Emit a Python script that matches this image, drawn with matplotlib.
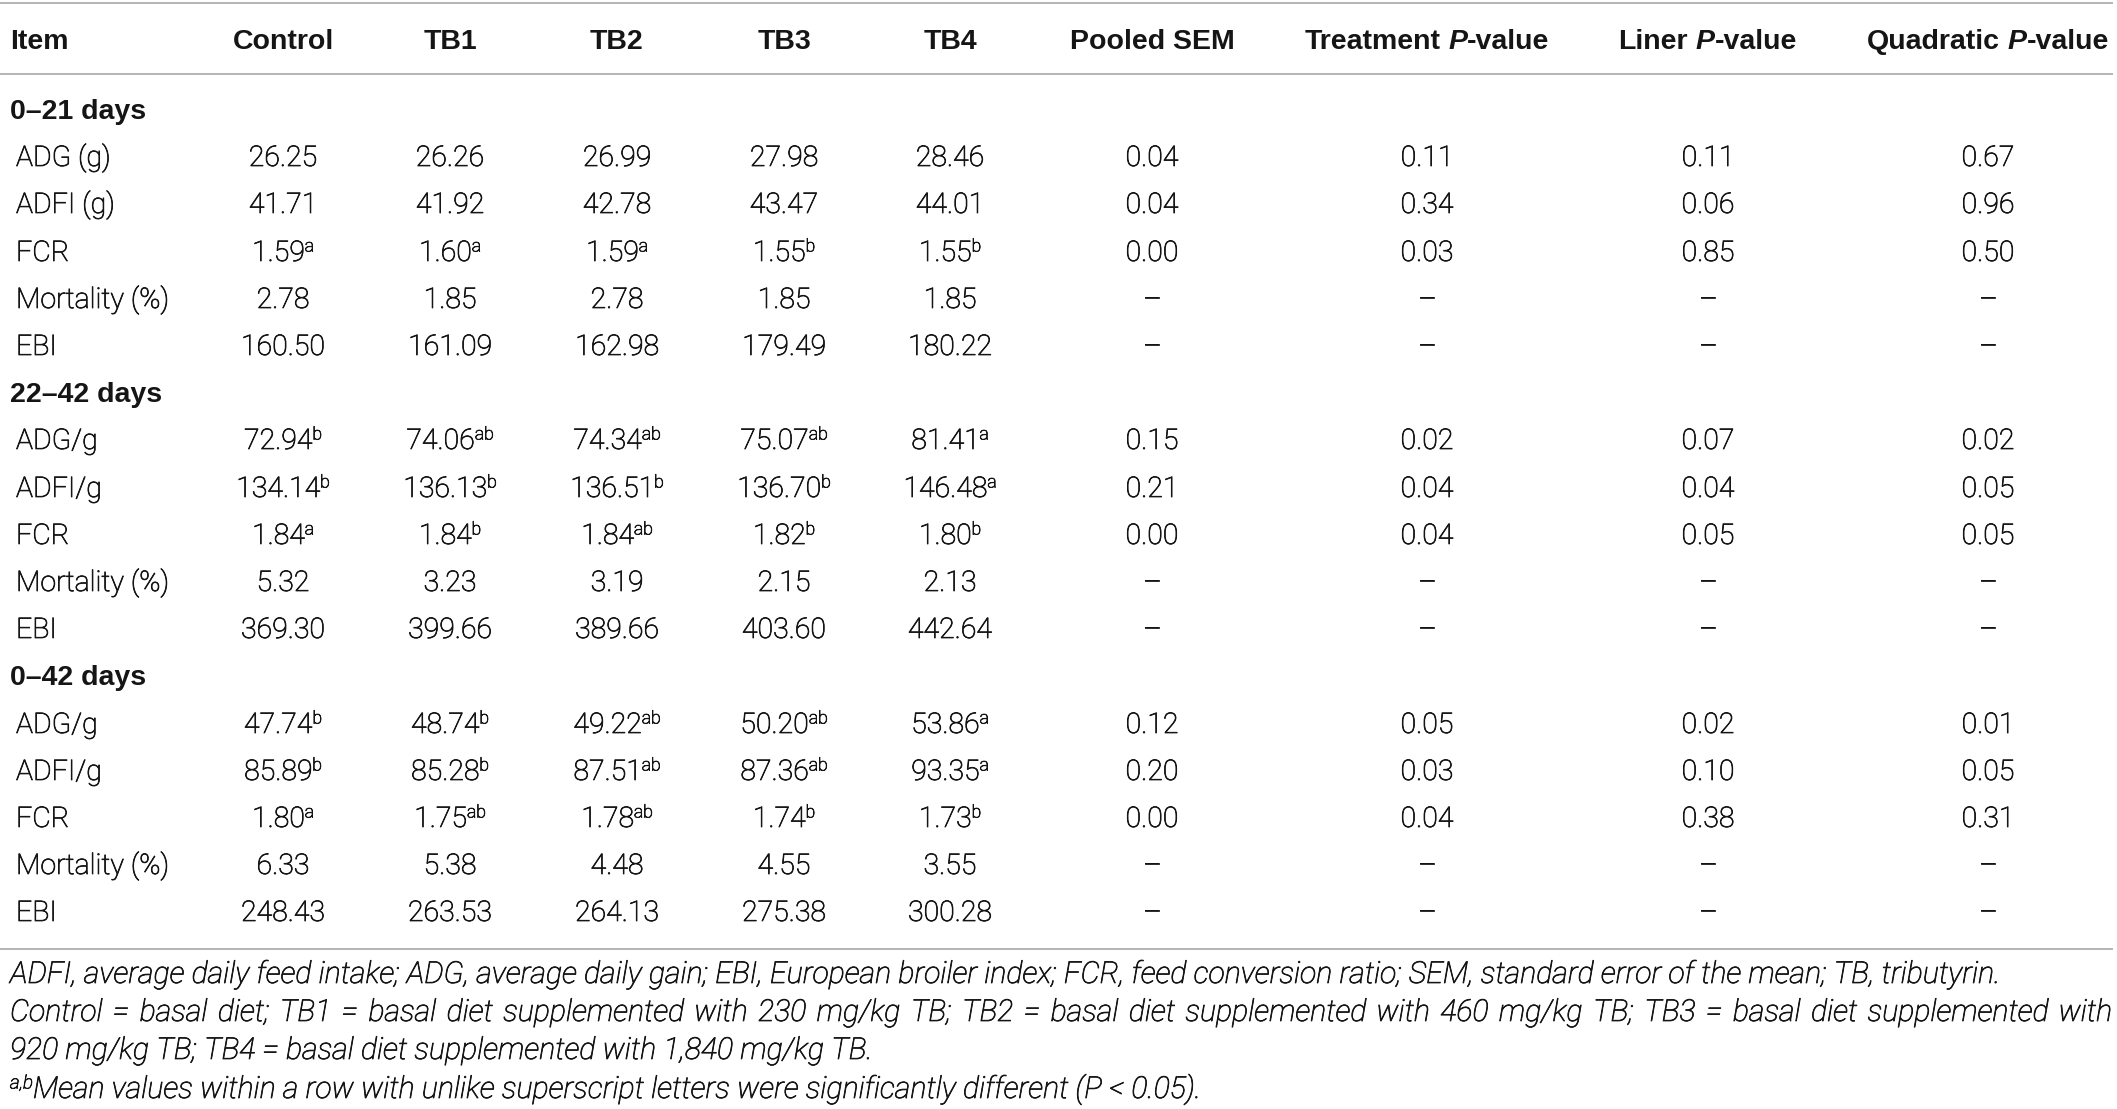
import matplotlib
matplotlib.use("Agg")
import matplotlib.pyplot as plt
import matplotlib.patheffects as pe
from matplotlib import font_manager as fm

# ---------------- data ----------------
col_headers = ["Item", "Control", "TB1", "TB2", "TB3", "TB4", "Pooled SEM",
               "Treatment P-value", "Liner P-value", "Quadratic P-value"]
periods = ["0–21 days", "22–42 days", "0–42 days"]
items = [
    ["ADG (g)", "ADFI (g)", "FCR", "Mortality (%)", "EBI"],
    ["ADG/g", "ADFI/g", "FCR", "Mortality (%)", "EBI"],
    ["ADG/g", "ADFI/g", "FCR", "Mortality (%)", "EBI"],
]
means = [
    [[26.25, 26.26, 26.99, 27.98, 28.46],
     [41.71, 41.92, 42.78, 43.47, 44.01],
     [1.59, 1.60, 1.59, 1.55, 1.55],
     [2.78, 1.85, 2.78, 1.85, 1.85],
     [160.50, 161.09, 162.98, 179.49, 180.22]],
    [[72.94, 74.06, 74.34, 75.07, 81.41],
     [134.14, 136.13, 136.51, 136.70, 146.48],
     [1.84, 1.84, 1.84, 1.82, 1.80],
     [5.32, 3.23, 3.19, 2.15, 2.13],
     [369.30, 399.66, 389.66, 403.60, 442.64]],
    [[47.74, 48.74, 49.22, 50.20, 53.86],
     [85.89, 85.28, 87.51, 87.36, 93.35],
     [1.80, 1.75, 1.78, 1.74, 1.73],
     [6.33, 5.38, 4.48, 4.55, 3.55],
     [248.43, 263.53, 264.13, 275.38, 300.28]],
]
letters = [
    [["", "", "", "", ""], ["", "", "", "", ""], ["a", "a", "a", "b", "b"],
     ["", "", "", "", ""], ["", "", "", "", ""]],
    [["b", "ab", "ab", "ab", "a"], ["b", "b", "b", "b", "a"], ["a", "b", "ab", "b", "b"],
     ["", "", "", "", ""], ["", "", "", "", ""]],
    [["b", "b", "ab", "ab", "a"], ["b", "b", "ab", "ab", "a"], ["a", "ab", "ab", "b", "b"],
     ["", "", "", "", ""], ["", "", "", "", ""]],
]
pooled_sem = [[0.04, 0.04, 0.00, None, None],
              [0.15, 0.21, 0.00, None, None],
              [0.12, 0.20, 0.00, None, None]]
treatment_p = [[0.11, 0.34, 0.03, None, None],
               [0.02, 0.04, 0.04, None, None],
               [0.05, 0.03, 0.04, None, None]]
linear_p = [[0.11, 0.06, 0.85, None, None],
            [0.07, 0.04, 0.05, None, None],
            [0.02, 0.10, 0.38, None, None]]
quadratic_p = [[0.67, 0.96, 0.50, None, None],
               [0.02, 0.05, 0.05, None, None],
               [0.01, 0.05, 0.31, None, None]]
footnote1 = ("ADFI, average daily feed intake; ADG, average daily gain; EBI, European broiler index; "
             "FCR, feed conversion ratio; SEM, standard error of the mean; TB, tributyrin.")
footnote2 = ("Control = basal diet; TB1 = basal diet supplemented with 230 mg/kg TB; TB2 = basal diet "
             "supplemented with 460 mg/kg TB; TB3 = basal diet supplemented with")
footnote3 = "920 mg/kg TB; TB4 = basal diet supplemented with 1,840 mg/kg TB."
footnote4_sup = "a,b"
footnote4 = "Mean values within a row with unlike superscript letters were significantly different (P < 0.05)."

# ---------------- style ----------------
W, H = 2117, 1109
TXT = "#151515"
LINE = "#b4b4b4"
FS = 20.5
FOOT_FS = 21.8
SUP_FS = FS * 0.62
SUP_RAISE = 9.5
THICKEN = [pe.withStroke(linewidth=0.55, foreground=TXT)]


def has_font(name):
    try:
        fm.findfont(fm.FontProperties(family=name), fallback_to_default=False)
        return True
    except Exception:
        return False


BODY_FAM = "Roboto" if has_font("Roboto") else "Liberation Sans"
HEAD_FAM = "Liberation Sans" if has_font("Liberation Sans") else "DejaVu Sans"

body_kw = dict(family=BODY_FAM, weight="light", fontsize=FS, color=TXT, path_effects=THICKEN)
head_kw = dict(family=HEAD_FAM, weight="bold", fontsize=FS, color=TXT)
head_it_kw = dict(family=HEAD_FAM, weight="bold", style="italic", fontsize=FS, color=TXT)
sup_kw = dict(family=BODY_FAM, weight="light", fontsize=SUP_FS, color=TXT, path_effects=THICKEN)
foot_kw = dict(family=BODY_FAM, weight="light", style="italic", fontsize=FOOT_FS, color=TXT,
               path_effects=THICKEN)
foot_sup_kw = dict(family=BODY_FAM, weight="light", style="italic", fontsize=FOOT_FS * 0.62,
                   color=TXT, path_effects=THICKEN)

fig = plt.figure(figsize=(W / 100, H / 100), dpi=100)
ax = fig.add_axes([0, 0, 1, 1])
ax.set_xlim(0, W)
ax.set_ylim(H, 0)
ax.axis("off")
renderer = fig.canvas.get_renderer()


def tw(s, kw):
    t = ax.text(0, 0, s, **kw)
    w = t.get_window_extent(renderer).width
    t.remove()
    return w


_space_cache = {}


def space_w(kw):
    key = (kw.get("family"), kw.get("weight"), kw.get("style"), kw.get("fontsize"))
    if key not in _space_cache:
        _space_cache[key] = tw("n n", kw) - tw("nn", kw)
    return _space_cache[key]


def rich(x, y, pieces, ha="center"):
    """pieces: list of (text, kw, is_superscript); y is baseline."""
    laid = []
    total = 0.0
    for s, kw, sup in pieces:
        core = s.strip(" ")
        lead = (len(s) - len(s.lstrip(" "))) * space_w(kw)
        trail = (len(s) - len(s.rstrip(" "))) * space_w(kw)
        w = tw(core, kw) if core else 0.0
        laid.append((core, kw, sup, lead, w, trail))
        total += lead + w + trail
    if ha == "center":
        cur = x - total / 2
    elif ha == "right":
        cur = x - total
    else:
        cur = x
    for core, kw, sup, lead, w, trail in laid:
        cur += lead
        if core:
            ax.text(cur, y - (SUP_RAISE if sup else 0), core, ha="left", va="baseline", **kw)
        cur += w + trail


def justified(x0, x1, y, line, kw):
    words = line.split(" ")
    ws = [tw(w, kw) for w in words]
    gap = (x1 - x0 - sum(ws)) / (len(words) - 1)
    cur = x0
    for w, wd in zip(words, ws):
        ax.text(cur, y, w, ha="left", va="baseline", **kw)
        cur += wd + gap


# ---------------- layout ----------------
ITEM_X = 10
SUBITEM_X = 16
col_x = [283, 450, 617, 784, 950, 1152, 1427, 1708, 1988]
HEADER_BASE = 49
ROW0_CENTER = 109
ROW_STEP = 47.2
CAP_HALF = 10


def baseline(row_index):
    return round(ROW0_CENTER + ROW_STEP * row_index + CAP_HALF)


# rules
for yl in (3, 74, 949):
    ax.plot([0, W - 4], [yl, yl], color=LINE, lw=1.4, solid_capstyle="butt")

# header
ax.text(ITEM_X, HEADER_BASE, col_headers[0], ha="left", va="baseline", **head_kw)
for cx, h in zip(col_x, col_headers[1:]):
    if "P-value" in h:
        pre = h.split("P-value")[0]
        rich(cx, HEADER_BASE, [(pre, head_kw, False), ("P", head_it_kw, False),
                               ("-value", head_kw, False)])
    else:
        rich(cx, HEADER_BASE, [(h, head_kw, False)])


def fmt(v):
    return "–" if v is None else f"{v:.2f}"


row = 0
for g, period in enumerate(periods):
    yb = baseline(row)
    ax.text(ITEM_X, yb, period, ha="left", va="baseline", **head_kw)
    row += 1
    for r, name in enumerate(items[g]):
        yb = baseline(row)
        ax.text(SUBITEM_X, yb, name, ha="left", va="baseline", **body_kw)
        for c in range(5):
            pieces = [(fmt(means[g][r][c]), body_kw, False)]
            if letters[g][r][c]:
                pieces.append((letters[g][r][c], sup_kw, True))
            rich(col_x[c], yb, pieces)
        stats = [pooled_sem[g][r], treatment_p[g][r], linear_p[g][r], quadratic_p[g][r]]
        for k, v in enumerate(stats):
            rich(col_x[5 + k], yb, [(fmt(v), body_kw, False)])
        row += 1

# footnotes
FOOT_X0, FOOT_X1 = 10, 2112
fb = [983, 1021, 1059, 1098]
ax.text(FOOT_X0, fb[0], footnote1, ha="left", va="baseline", **foot_kw)
justified(FOOT_X0, FOOT_X1, fb[1], footnote2, foot_kw)
ax.text(FOOT_X0, fb[2], footnote3, ha="left", va="baseline", **foot_kw)
rich(FOOT_X0, fb[3], [(footnote4_sup, foot_sup_kw, True), (footnote4, foot_kw, False)], ha="left")

fig.savefig("out.png", dpi=100, facecolor="white")
